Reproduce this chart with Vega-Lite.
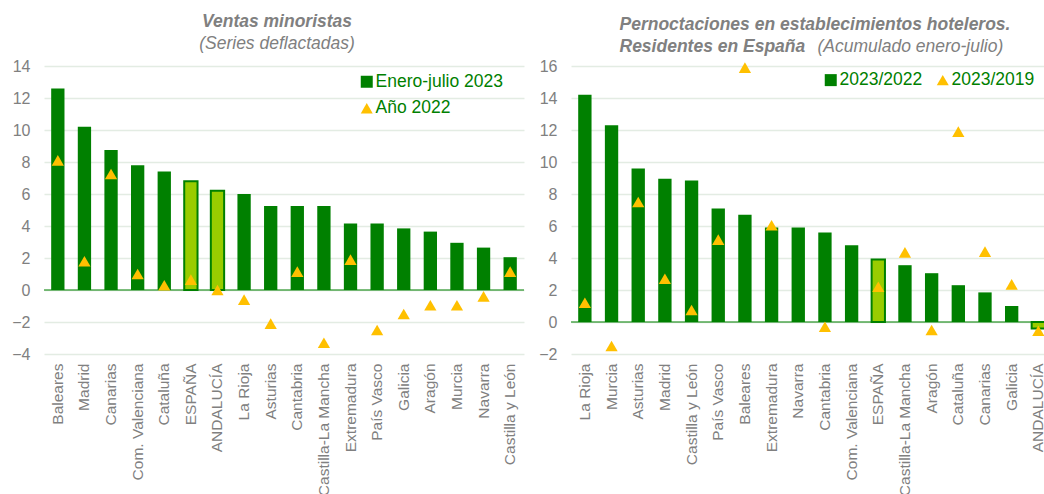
{
  "$schema": "https://vega.github.io/schema/vega-lite/v6.json",
  "background": "white",
  "padding": {"left": 11, "top": 12, "right": 0, "bottom": 0},
  "spacing": 13,
  "config": {
    "font": "Liberation Sans",
    "view": {"stroke": null},
    "axisY": {"grid": true, "gridColor": "#E3ECE3", "gridWidth": 1.5, "domain": false, "ticks": false, "labelColor": "#808080", "labelFontSize": 16, "labelPadding": 14, "labelOverlap": false, "title": null},
    "axisX": {"grid": false, "domain": false, "ticks": false, "labelAngle": -90, "labelColor": "#808080", "labelFontSize": 15.5, "labelPadding": 9, "title": null, "labelLimit": 0, "labelOverlap": false},
    "legend": {"title": null, "orient": "none", "labelFontSize": 17.5, "labelColor": "#008000", "symbolSize": 144, "labelOffset": 0, "symbolStrokeWidth": 0, "rowPadding": 7.5},
    "title": {"fontSize": 17.5, "fontStyle": "italic", "fontWeight": "bold", "color": "#808080", "lineHeight": 22, "subtitleFontSize": 17.5, "subtitleFontStyle": "italic", "subtitleFontWeight": "normal", "subtitleColor": "#808080", "subtitlePadding": 4.5, "offset": 3, "anchor": "middle"}
  },
  "resolve": {
    "scale": {"fill": "independent", "shape": "independent", "x": "independent", "y": "independent"},
    "legend": {"fill": "independent", "shape": "independent"}
  },
  "hconcat": [
    {
      "width": 480,
      "height": 288,
      "title": {"text": "Ventas minoristas", "subtitle": "(Series deflactadas)", "dx": -7, "offset": 6},
      "data": {"values": [
        {"region": "Baleares", "v": 12.6, "p": 8.1, "hl": false},
        {"region": "Madrid", "v": 10.2, "p": 1.8, "hl": false},
        {"region": "Canarias", "v": 8.75, "p": 7.25, "hl": false},
        {"region": "Com. Valenciana", "v": 7.8, "p": 1.0, "hl": false},
        {"region": "Cataluña", "v": 7.4, "p": 0.3, "hl": false},
        {"region": "ESPAÑA", "v": 6.8, "p": 0.65, "hl": true},
        {"region": "ANDALUCÍA", "v": 6.2, "p": 0.0, "hl": true},
        {"region": "La Rioja", "v": 6.0, "p": -0.6, "hl": false},
        {"region": "Asturias", "v": 5.25, "p": -2.1, "hl": false},
        {"region": "Cantabria", "v": 5.25, "p": 1.15, "hl": false},
        {"region": "Castilla-La Mancha", "v": 5.25, "p": -3.3, "hl": false},
        {"region": "Extremadura", "v": 4.15, "p": 1.9, "hl": false},
        {"region": "País Vasco", "v": 4.15, "p": -2.5, "hl": false},
        {"region": "Galicia", "v": 3.85, "p": -1.5, "hl": false},
        {"region": "Aragón", "v": 3.65, "p": -0.95, "hl": false},
        {"region": "Murcia", "v": 2.95, "p": -0.95, "hl": false},
        {"region": "Navarra", "v": 2.65, "p": -0.4, "hl": false},
        {"region": "Castilla y León", "v": 2.05, "p": 1.15, "hl": false}
      ]},
      "layer": [
        {
          "mark": {"type": "bar"},
          "encoding": {
            "x": {"field": "region", "type": "nominal", "sort": null, "scale": {"paddingInner": 0.5, "paddingOuter": 0.27}},
            "y": {"field": "v", "type": "quantitative", "scale": {"domain": [-4, 14], "nice": false}, "axis": {"values": [-4, -2, 0, 2, 4, 6, 8, 10, 12, 14], "labelOverlap": false}},
            "fill": {"datum": "Enero-julio 2023", "scale": {"domain": ["Enero-julio 2023", "Año 2022"], "range": ["#008000", "#FFC000"]}, "legend": {"legendX": 314, "legendY": 7}}
          }
        },
        {
          "transform": [{"filter": "datum.hl"}],
          "mark": {"type": "bar", "fill": "#99CC00", "stroke": "#008000", "strokeWidth": 2},
          "encoding": {
            "x": {"field": "region", "type": "nominal", "sort": null},
            "y": {"field": "v", "type": "quantitative", "axis": {"values": [-4, -2, 0, 2, 4, 6, 8, 10, 12, 14], "labelOverlap": false}}
          }
        },
        {
          "data": {"values": [{}]},
          "mark": {"type": "rule", "color": "#008000", "strokeWidth": 1},
          "encoding": {"y": {"datum": 0, "type": "quantitative", "axis": {"values": [-4, -2, 0, 2, 4, 6, 8, 10, 12, 14], "labelOverlap": false}}}
        },
        {
          "mark": {"type": "point", "filled": true, "size": 150, "opacity": 1},
          "encoding": {
            "x": {"field": "region", "type": "nominal", "sort": null},
            "y": {"field": "p", "type": "quantitative", "axis": {"values": [-4, -2, 0, 2, 4, 6, 8, 10, 12, 14], "labelOverlap": false}},
            "fill": {"datum": "Año 2022"},
            "shape": {"datum": "Año 2022", "scale": {"domain": ["Enero-julio 2023", "Año 2022"], "range": ["square", "triangle-up"]}}
          }
        }
      ]
    },
    {
      "width": 474,
      "height": 288,
      "title": {"text": ["Pernoctaciones en establecimientos hoteleros.", " Residentes en España"], "subtitle": "(Acumulado enero-julio)", "align": "left", "subtitlePadding": -17.5, "dx": 9.5, "encoding": {"dx": {"value": -188.5}}},
      "data": {"values": [
        {"region": "La Rioja", "v": 14.2, "p": 1.2, "hl": false},
        {"region": "Murcia", "v": 12.3, "p": -1.5, "hl": false},
        {"region": "Asturias", "v": 9.6, "p": 7.5, "hl": false},
        {"region": "Madrid", "v": 8.95, "p": 2.7, "hl": false},
        {"region": "Castilla y León", "v": 8.85, "p": 0.75, "hl": false},
        {"region": "País Vasco", "v": 7.1, "p": 5.15, "hl": false},
        {"region": "Baleares", "v": 6.7, "p": 15.9, "hl": false},
        {"region": "Extremadura", "v": 5.9, "p": 6.05, "hl": false},
        {"region": "Navarra", "v": 5.9, "p": null, "hl": false},
        {"region": "Cantabria", "v": 5.6, "p": -0.3, "hl": false},
        {"region": "Com. Valenciana", "v": 4.8, "p": null, "hl": false},
        {"region": "ESPAÑA", "v": 3.9, "p": 2.2, "hl": true},
        {"region": "Castilla-La Mancha", "v": 3.55, "p": 4.35, "hl": false},
        {"region": "Aragón", "v": 3.05, "p": -0.5, "hl": false},
        {"region": "Cataluña", "v": 2.3, "p": 11.9, "hl": false},
        {"region": "Canarias", "v": 1.85, "p": 4.4, "hl": false},
        {"region": "Galicia", "v": 1.0, "p": 2.35, "hl": false},
        {"region": "ANDALUCÍA", "v": -0.4, "p": -0.55, "hl": true}
      ]},
      "layer": [
        {
          "mark": {"type": "bar"},
          "encoding": {
            "x": {"field": "region", "type": "nominal", "sort": null, "scale": {"paddingInner": 0.5, "paddingOuter": 0.135, "align": 1}},
            "y": {"field": "v", "type": "quantitative", "scale": {"domain": [-2, 16], "nice": false}, "axis": {"values": [-2, 0, 2, 4, 6, 8, 10, 12, 14, 16], "labelOverlap": false}},
            "fill": {"datum": "2023/2022", "scale": {"domain": ["2023/2022", "2023/2019"], "range": ["#008000", "#FFC000"]}, "legend": {"direction": "horizontal", "legendX": 251, "legendY": 5, "columnPadding": 11}}
          }
        },
        {
          "transform": [{"filter": "datum.hl"}],
          "mark": {"type": "bar", "fill": "#99CC00", "stroke": "#008000", "strokeWidth": 2},
          "encoding": {
            "x": {"field": "region", "type": "nominal", "sort": null},
            "y": {"field": "v", "type": "quantitative", "axis": {"values": [-2, 0, 2, 4, 6, 8, 10, 12, 14, 16], "labelOverlap": false}}
          }
        },
        {
          "data": {"values": [{}]},
          "mark": {"type": "rule", "color": "#008000", "strokeWidth": 1},
          "encoding": {"y": {"datum": 0, "type": "quantitative", "axis": {"values": [-2, 0, 2, 4, 6, 8, 10, 12, 14, 16], "labelOverlap": false}}}
        },
        {
          "mark": {"type": "point", "filled": true, "size": 150, "opacity": 1},
          "encoding": {
            "x": {"field": "region", "type": "nominal", "sort": null},
            "y": {"field": "p", "type": "quantitative", "axis": {"values": [-2, 0, 2, 4, 6, 8, 10, 12, 14, 16], "labelOverlap": false}},
            "fill": {"datum": "2023/2019"},
            "shape": {"datum": "2023/2019", "scale": {"domain": ["2023/2022", "2023/2019"], "range": ["square", "triangle-up"]}}
          }
        }
      ]
    }
  ]
}
